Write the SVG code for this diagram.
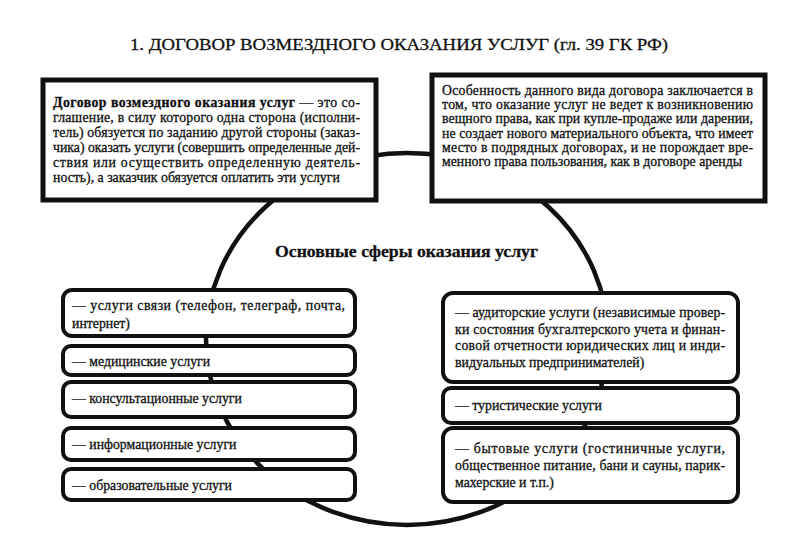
<svg xmlns="http://www.w3.org/2000/svg" width="800" height="560" viewBox="0 0 800 560">
<style>
text{font-family:"Liberation Serif","Times New Roman",serif;fill:#111;stroke:#111;stroke-width:0.3;}
.t{font-size:13.8px;}
.s{font-size:13.8px;}
.b{font-weight:bold;}
.title{font-size:17px;}
.center{font-size:17.5px;font-weight:bold;}
.sq{fill:#fff;stroke:#111;stroke-width:5;}
.rb{fill:#fff;stroke:#111;stroke-width:4;}
.conn{fill:none;stroke:#111;stroke-width:4.5;}
</style>
<rect width="800" height="560" fill="#fff"/>
<text class="title" x="130" y="50" textLength="538" lengthAdjust="spacingAndGlyphs">1. ДОГОВОР ВОЗМЕЗДНОГО ОКАЗАНИЯ УСЛУГ (гл. 39 ГК РФ)</text>
<g id="connectors">
<ellipse class="conn" cx="407" cy="339" rx="201" ry="186"/>
</g>
<g id="definition">
<rect class="sq" x="43" y="80" width="333" height="120"/>
<text class="t" x="53" y="107" textLength="307" lengthAdjust="spacing"><tspan class="b">Договор возмездного оказания услуг</tspan> — это со-</text>
<text class="t" x="53" y="122" textLength="307" lengthAdjust="spacing">глашение, в силу которого одна сторона (исполни-</text>
<text class="t" x="53" y="137" textLength="307" lengthAdjust="spacing">тель) обязуется по заданию другой стороны (заказ-</text>
<text class="t" x="53" y="152" textLength="307" lengthAdjust="spacing">чика) оказать услуги (совершить определенные дей-</text>
<text class="t" x="53" y="167" textLength="307" lengthAdjust="spacing">ствия или осуществить определенную деятель-</text>
<text class="t" x="53" y="182">ность), а заказчик обязуется оплатить эти услуги</text>
</g>
<g id="feature">
<rect class="sq" x="432" y="75" width="333" height="126"/>
<text class="t" x="442" y="95" textLength="311" lengthAdjust="spacing">Особенность данного вида договора заключается в</text>
<text class="t" x="442" y="109" textLength="311" lengthAdjust="spacing">том, что оказание услуг не ведет к возникновению</text>
<text class="t" x="442" y="123" textLength="311" lengthAdjust="spacing">вещного права, как при купле-продаже или дарении,</text>
<text class="t" x="442" y="137.5" textLength="311" lengthAdjust="spacing">не создает нового материального объекта, что имеет</text>
<text class="t" x="442" y="152" textLength="311" lengthAdjust="spacing">место в подрядных договорах, и не порождает вре-</text>
<text class="t" x="442" y="166">менного права пользования, как в договоре аренды</text>
</g>
<g id="spheres-label">
<text class="center" x="275" y="257" textLength="263" lengthAdjust="spacingAndGlyphs">Основные сферы оказания услуг</text>
</g>
<g id="svyaz">
<rect class="rb" x="63" y="290" width="292" height="46" rx="9"/>
<text class="s" x="72" y="310" textLength="273" lengthAdjust="spacing">— услуги связи (телефон, телеграф, почта,</text>
<text class="s" x="72" y="328">интернет)</text>
</g>
<g id="med">
<rect class="rb" x="63" y="346" width="292" height="29" rx="8"/>
<text class="s" x="72" y="366">— медицинские услуги</text>
</g>
<g id="konsult">
<rect class="rb" x="63" y="382" width="292" height="35" rx="8"/>
<text class="s" x="72" y="403">— консультационные услуги</text>
</g>
<g id="inform">
<rect class="rb" x="63" y="428" width="292" height="32" rx="8"/>
<text class="s" x="72" y="449">— информационные услуги</text>
</g>
<g id="obraz">
<rect class="rb" x="63" y="469" width="292" height="31" rx="8"/>
<text class="s" x="72" y="490">— образовательные услуги</text>
</g>
<g id="audit">
<rect class="rb" x="443" y="293" width="295" height="89" rx="10"/>
<text class="s" x="455" y="317" textLength="270" lengthAdjust="spacing">— аудиторские услуги (независимые провер-</text>
<text class="s" x="455" y="333.5" textLength="270" lengthAdjust="spacing">ки состояния бухгалтерского учета и финан-</text>
<text class="s" x="455" y="350" textLength="270" lengthAdjust="spacing">совой отчетности юридических лиц и инди-</text>
<text class="s" x="455" y="367">видуальных предпринимателей)</text>
</g>
<g id="turizm">
<rect class="rb" x="443" y="388" width="295" height="35" rx="8"/>
<text class="s" x="455" y="410">— туристические услуги</text>
</g>
<g id="byt">
<rect class="rb" x="443" y="428" width="295" height="74" rx="10"/>
<text class="s" x="455" y="453" textLength="270" lengthAdjust="spacing">— бытовые услуги (гостиничные услуги,</text>
<text class="s" x="455" y="470" textLength="270" lengthAdjust="spacing">общественное питание, бани и сауны, парик-</text>
<text class="s" x="455" y="487">махерские и т.п.)</text>
</g>
</svg>
